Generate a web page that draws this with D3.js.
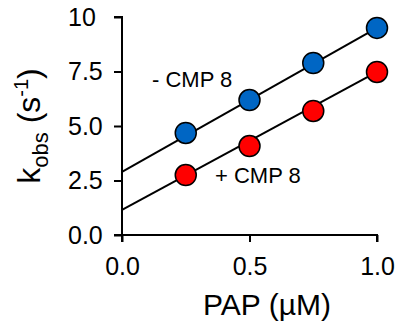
<!DOCTYPE html>
<html>
<head>
<meta charset="utf-8">
<script src="https://cdn.jsdelivr.net/npm/d3@7"></script>
<style>
  body { margin: 0; background: #fff; }
  svg text { font-family: "Liberation Sans", Arial, sans-serif; fill: #000; }
</style>
</head>
<body>
<div id="chart"></div>
<script>
// data
const pap = [0.25, 0.5, 0.75, 1.0];
const minusCmp = [4.68, 6.19, 7.89, 9.5];
const plusCmp = [2.75, 4.08, 5.69, 7.48];
// fitted lines, [x, y] at the two ends
const minusFit = [[0, 2.9], [1.0, 9.5]];
const plusFit = [[0, 1.15], [1.0, 7.48]];
const xTicks = [0, 0.5, 1.0];
const yTicks = [0, 2.5, 5, 7.5, 10];

const width = 400, height = 321;
const margin = { top: 17, right: 23, bottom: 86, left: 122 };
const innerWidth = width - margin.left - margin.right;
const innerHeight = height - margin.top - margin.bottom;

const svg = d3.select("#chart").append("svg")
    .attr("width", width)
    .attr("height", height);
const g = svg.append("g")
    .attr("transform", `translate(${margin.left},${margin.top})`);

const x = d3.scaleLinear().domain([0, 1]).range([0, innerWidth]);
const y = d3.scaleLinear().domain([0, 10]).range([innerHeight, 0]);

// axes
const xAxis = g.append("g")
    .attr("transform", `translate(0,${innerHeight})`)
    .call(d3.axisBottom(x).tickValues(xTicks).tickFormat(d3.format(".1f")).tickSize(7).tickPadding(15));
const yAxis = g.append("g")
    .call(d3.axisLeft(y).tickValues(yTicks)
        .tickFormat(d => d === 10 ? "10" : d3.format(".1f")(d)).tickSize(8));
[xAxis, yAxis].forEach(a => {
    a.select(".domain").attr("stroke", "#000").attr("stroke-width", 2);
    a.selectAll(".tick line").attr("stroke", "#000").attr("stroke-width", 2);
    a.selectAll(".tick text").style("font-size", "25px").attr("fill", "#000");
});
// y labels are left aligned in the figure
yAxis.selectAll(".tick text").attr("text-anchor", "start").attr("x", -54);
xAxis.select(".domain").attr("d", `M0,7V0H${innerWidth}V7`);
yAxis.select(".domain").attr("d", `M-8,0H0V${innerHeight}H-8`);

// fit lines
const line = d3.line().x(d => x(d[0])).y(d => y(d[1]));
[minusFit, plusFit].forEach(f => {
    g.append("path")
        .attr("d", line(f))
        .attr("fill", "none")
        .attr("stroke", "#000")
        .attr("stroke-width", 2);
});

// points
const series = [
    { values: minusCmp, color: "#0066c4" },
    { values: plusCmp, color: "#ff0000" }
];
series.forEach(s => {
    g.selectAll(null)
        .data(pap.map((p, i) => [p, s.values[i]]))
        .enter().append("circle")
        .attr("cx", d => x(d[0]))
        .attr("cy", d => y(d[1]))
        .attr("r", 10.5)
        .attr("fill", s.color)
        .attr("stroke", "#000")
        .attr("stroke-width", 1.5);
});

// series labels
svg.append("text")
    .attr("x", 152)
    .attr("y", 87)
    .style("font-size", "22px")
    .text("- CMP 8");
svg.append("text")
    .attr("x", 215)
    .attr("y", 183)
    .style("font-size", "22px")
    .text("+ CMP 8");

// axis titles
svg.append("text")
    .attr("x", 267)
    .attr("y", 315)
    .attr("text-anchor", "middle")
    .style("font-size", "30px")
    .text("PAP (µM)");

const yt = svg.append("text")
    .attr("transform", "translate(40,126) rotate(-90)")
    .attr("text-anchor", "middle")
    .style("font-size", "32px");
yt.append("tspan").text("k");
yt.append("tspan").attr("dy", 8).style("font-size", "22px").text("obs");
yt.append("tspan").attr("dy", -8).text(" (s");
yt.append("tspan").attr("dy", -12).style("font-size", "20px").text("-1");
yt.append("tspan").attr("dy", 12).text(")");
</script>
</body>
</html>
